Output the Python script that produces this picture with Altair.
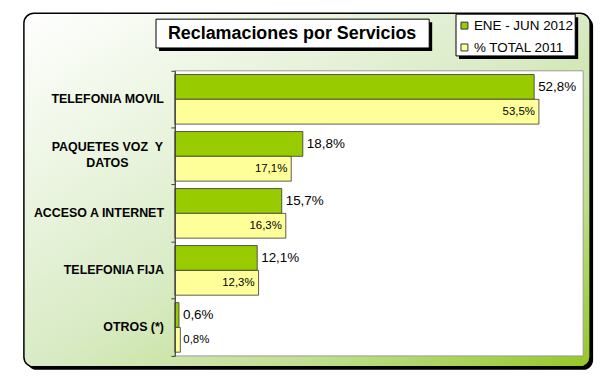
import altair as alt
import pandas as pd

# ---- data ----
categories = ["TELEFONIA MOVIL", "PAQUETES VOZ\u00a0 Y\nDATOS", "ACCESO A INTERNET",
              "TELEFONIA FIJA", "OTROS (*)"]
series = ["ENE - JUN 2012", "% TOTAL 2011"]
ene_jun_2012 = [52.8, 18.8, 15.7, 12.1, 0.6]
total_2011 = [53.5, 17.1, 16.3, 12.3, 0.8]
colors = ["#99cc00", "#ffff99"]
title_text = "Reclamaciones por Servicios"

rows = []
for c, a, b in zip(categories, ene_jun_2012, total_2011):
    rows.append({"cat": c, "series": series[0], "value": a})
    rows.append({"cat": c, "series": series[1], "value": b})
df = pd.DataFrame(rows)
df["label"] = df["value"].map(lambda v: f"{v:.1f}".replace(".", ",") + "%")
df["inside"] = df["value"] > 5

cat_df = pd.DataFrame({"cat": categories})
cat_df["multi"] = cat_df["cat"].str.contains("\n")

W, H = 411, 287
FONT = "Liberation Sans"
one = pd.DataFrame({"k": [0]})


def box(x, x2, y, y2, **mark):
    return alt.Chart(one).mark_rect(**mark).encode(
        x=alt.value(x), x2=alt.value(x2), y=alt.value(y), y2=alt.value(y2))


def txt(x, y, text, **mark):
    return alt.Chart(one).mark_text(**mark).encode(
        x=alt.value(x), y=alt.value(y), text=alt.value(text))


gradient = alt.LinearGradient(
    gradient="linear", x1=0, y1=0, x2=1, y2=1,
    stops=[alt.GradientStop(offset=0, color="#ffffff"),
           alt.GradientStop(offset=0.5, color="#d9ebc5"),
           alt.GradientStop(offset=0.75, color="#bfdf8e"),
           alt.GradientStop(offset=1, color="#95c726")])

frame_shadow = box(-149, 421, -55, 301, fill="black", cornerRadius=10)
frame = box(-152, 418, -58, 298, fill=gradient, stroke="black", strokeWidth=1.5,
            cornerRadius=10)
plot_bg = box(0, W, 0, H, fill="white", stroke="#9a9a9a", strokeWidth=1)

title_shadow = box(-16, 259, -49, -20, fill="black")
title_box = box(-19, 256, -52, -23, fill="white", stroke="black", strokeWidth=1)
title = txt(118, -37, title_text, font=FONT, fontSize=18, fontWeight="bold",
            align="center", baseline="middle", color="black")

leg_shadow = box(286, 406, -54, -12, fill="black")
leg_box = box(283, 403, -57, -15, fill="white", stroke="black", strokeWidth=1)
leg_sq1 = box(288, 295, -49, -42, fill=colors[0], stroke="#333333", strokeWidth=1)
leg_sq2 = box(288, 295, -27, -20, fill=colors[1], stroke="#333333", strokeWidth=1)
leg_t1 = txt(301, -45, series[0], font=FONT, fontSize=13.5, align="left",
             baseline="middle", color="black")
leg_t2 = txt(301, -23, series[1], font=FONT, fontSize=13.5, align="left",
             baseline="middle", color="black")

yenc = alt.Y(
    "cat:N", sort=categories, title=None,
    scale=alt.Scale(paddingInner=0, paddingOuter=0),
    axis=alt.Axis(
        labels=False,
        tickSize=4, tickColor="#404040", domainColor="#404040",
        bandPosition=1, tickExtra=True, zindex=1))
yoff = alt.YOffset("series:N", sort=series,
                   scale=alt.Scale(paddingInner=0, paddingOuter=0.15))
xenc = alt.X("value:Q", scale=alt.Scale(domain=[0, 60]), axis=None)

bars = alt.Chart(df).mark_bar(stroke="#333333", strokeWidth=0.8).encode(
    x=xenc, y=yenc, yOffset=yoff,
    color=alt.Color("series:N", sort=series,
                    scale=alt.Scale(domain=series, range=colors), legend=None))

lab_green = alt.Chart(df).transform_filter(
    alt.datum.series == series[0]).mark_text(
    align="left", baseline="middle", dx=4, font=FONT, fontSize=13.5,
    color="black").encode(x=xenc, y=yenc, yOffset=yoff, text="label:N")

lab_yel_in = alt.Chart(df).transform_filter(
    (alt.datum.series == series[1]) & alt.datum.inside).mark_text(
    align="right", baseline="middle", dx=-4, font=FONT, fontSize=11.5,
    color="black").encode(x=xenc, y=yenc, yOffset=yoff, text="label:N")

lab_yel_out = alt.Chart(df).transform_filter(
    (alt.datum.series == series[1]) & ~alt.datum.inside).mark_text(
    align="left", baseline="middle", dx=3, font=FONT, fontSize=11.5,
    color="black").encode(x=xenc, y=yenc, yOffset=yoff, text="label:N")

cat_style = dict(baseline="middle", font=FONT, fontSize=12.5, fontWeight="bold",
                 color="black", lineBreak="\n", lineHeight=16)
cat_single = alt.Chart(cat_df).transform_filter(~alt.datum.multi).mark_text(
    align="right", **cat_style).encode(x=alt.value(-11), y=yenc, text="cat:N")
cat_multi = alt.Chart(cat_df).transform_filter(alt.datum.multi).mark_text(
    align="center", dy=-9, **cat_style).encode(x=alt.value(-68), y=yenc, text="cat:N")

chart = alt.layer(
    frame_shadow, frame, plot_bg, title_shadow, title_box, title,
    leg_shadow, leg_box, leg_sq1, leg_sq2, leg_t1, leg_t2,
    bars, lab_green, lab_yel_in, lab_yel_out, cat_single, cat_multi
).properties(
    width=W, height=H,
    autosize=alt.AutoSizeParams(type="none"),
    padding={"left": 168, "top": 62, "right": 25, "bottom": 20},
    background="white",
).configure_view(stroke=None)

chart.save("out.html", embed_options={"renderer": "svg", "actions": False})
